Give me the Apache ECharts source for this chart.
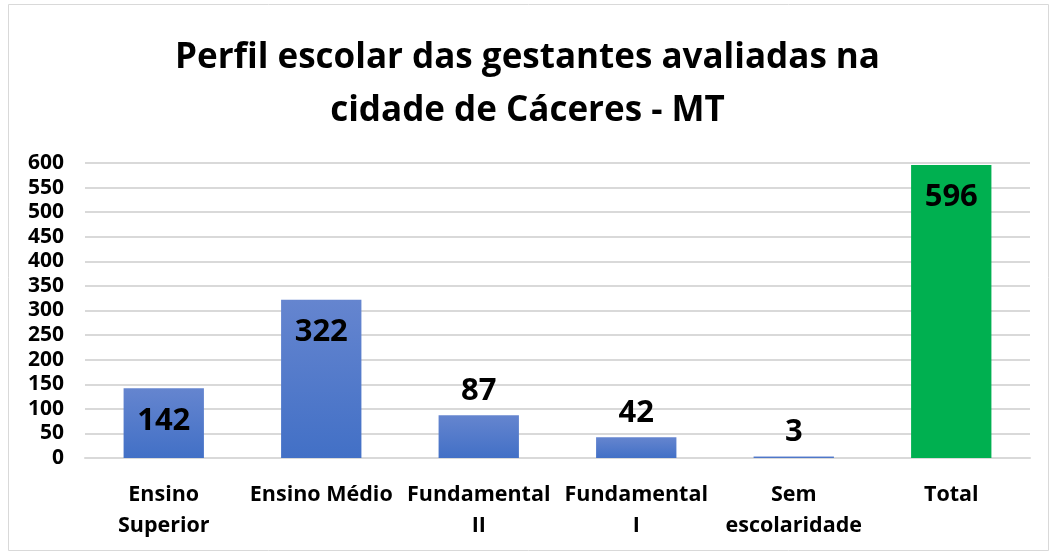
<!DOCTYPE html>
<html>
<head>
<meta charset="utf-8">
<script src="https://cdn.jsdelivr.net/npm/echarts@6/dist/echarts.min.js"></script>
<style>
  html, body { margin: 0; padding: 0; background: #fff; }
  #main { width: 1055px; height: 554px; }
</style>
</head>
<body>
<div id="main"></div>
<script>
var categories = ['Ensino\nSuperior', 'Ensino Médio', 'Fundamental\nII', 'Fundamental\nI', 'Sem\nescolaridade', 'Total'];
var values = [142, 322, 87, 42, 3, 596];
var insideLabel = [true, true, false, false, false, true];
var yTicks = { min: 0, max: 600, interval: 50 };

var fontFam = '"Open Sans", Lato, sans-serif';
var blue = new echarts.graphic.LinearGradient(0, 0, 0, 1, [
  { offset: 0, color: '#6585cf' },
  { offset: 1, color: '#4270c6' }
]);

var myChart = echarts.init(document.getElementById('main'));

// cada barra monta o seu estilo e a posição do rótulo
var barData = values.map(function (v, i) {
  return {
    value: v,
    itemStyle: { color: i === values.length - 1 ? '#00b050' : blue },
    label: {
      position: insideLabel[i] ? 'insideTop' : 'top',
      distance: insideLabel[i] ? 17 : 9
    }
  };
});

var option = {
  backgroundColor: '#fff',
  title: {
    text: 'Perfil escolar das gestantes avaliadas na\ncidade de Cáceres - MT',
    left: 'center',
    top: 27,
    textStyle: {
      fontFamily: fontFam,
      fontSize: 35,
      fontWeight: 'bold',
      color: '#000',
      lineHeight: 53
    }
  },
  graphic: [{
    type: 'rect',
    shape: { x: 8.5, y: 4.5, width: 1040, height: 546 },
    style: { fill: 'none', stroke: '#d9d9d9', lineWidth: 1 },
    silent: true
  }],
  grid: { left: 85, right: 25, top: 163, bottom: 96, containLabel: false },
  xAxis: {
    type: 'category',
    data: categories,
    axisTick: { show: false },
    axisLine: { lineStyle: { color: '#d9d9d9', width: 2 } },
    axisLabel: {
      fontFamily: fontFam,
      fontSize: 21.5,
      fontWeight: 'bold',
      color: '#000',
      lineHeight: 31,
      margin: 21,
      interval: 0
    }
  },
  yAxis: {
    type: 'value',
    min: yTicks.min,
    max: yTicks.max,
    interval: yTicks.interval,
    axisLine: { show: false },
    axisTick: { show: false },
    splitLine: { lineStyle: { color: '#d9d9d9', width: 2 } },
    axisLabel: {
      fontFamily: fontFam,
      fontSize: 21,
      fontWeight: 'bold',
      color: '#000',
      margin: 21
    }
  },
  series: [{
    type: 'bar',
    data: barData,
    barWidth: '51%',
    label: {
      show: true,
      fontFamily: fontFam,
      fontSize: 31,
      fontWeight: 'bold',
      color: '#000'
    }
  }]
};

myChart.setOption(option);
</script>
</body>
</html>
